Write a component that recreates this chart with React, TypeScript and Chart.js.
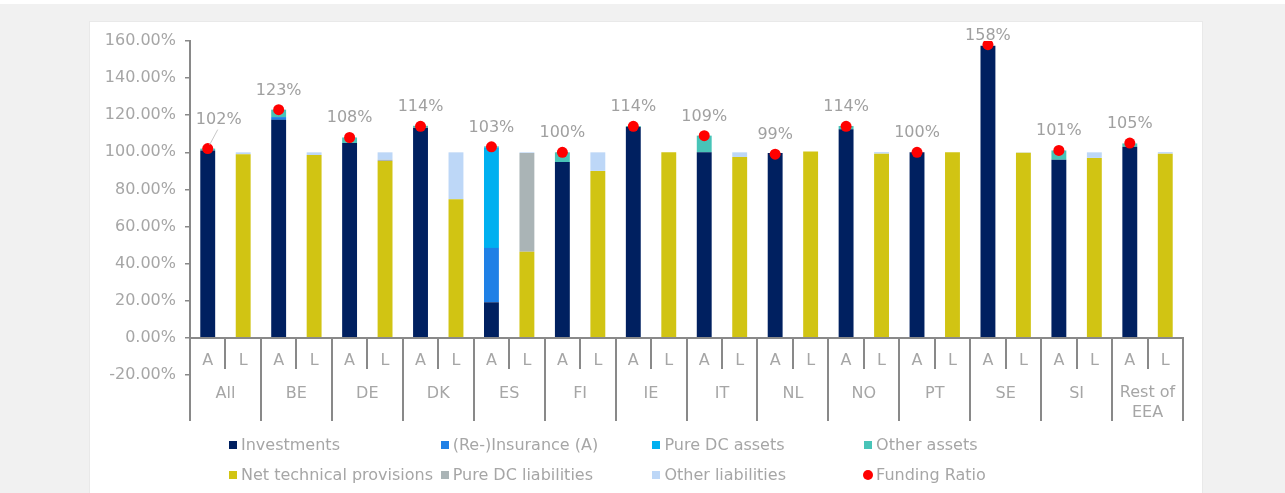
import React, { useEffect, useRef } from "react";
import { Chart, registerables } from "chart.js";

Chart.register(...registerables);

// ---------- data ----------
const groups = ["All", "BE", "DE", "DK", "ES", "FI", "IE", "IT", "NL", "NO", "PT", "SE", "SI", "Rest of EEA"];
const sides = ["A", "L"];

// assets side (A)
const investments = [101, 117.5, 105, 113.3, 19.2, 94.8, 113.6, 100, 99.6, 112.4, 100, 157.5, 96, 103];
const reInsurance = [0, 1.5, 0, 0, 29.3, 0, 0, 0, 0, 0, 0, 0, 0, 0];
const pureDCAssets = [0, 0, 0, 0, 54.3, 0, 0, 0, 0, 0, 0, 0, 0, 0];
const otherAssets = [1, 4, 3, 1, 0.4, 5.2, 0.6, 9, 0, 1.8, 0, 0, 5, 1.8];

// liabilities side (L)
const netTechnicalProvisions = [99, 98.5, 95.3, 74.7, 46.4, 90, 100, 97.5, 100.5, 99.3, 100, 99.8, 97, 99.3];
const pureDCLiabilities = [0, 0, 0.7, 0, 53.2, 0, 0, 0, 0, 0, 0, 0, 0, 0];
const otherLiabilities = [1, 1.5, 4, 25.3, 0.4, 10, 0, 2.5, 0, 0.8, 0, 0.2, 3, 0.8];

const fundingRatio = [102, 123, 108, 114, 103, 100, 114, 109, 99, 114, 100, 158, 101, 105];

const yTicks = { min: -20, max: 160, step: 20 };

// ---------- styles ----------
const FONT = "'DejaVu Sans', Verdana, sans-serif";
const TEXT = "#a6a6a6";
const AXIS = "#898989";

const COLORS = {
  investments: "#002060",
  reInsurance: "#1F80E6",
  pureDCAssets: "#00B0F0",
  otherAssets: "#48C4B8",
  ntp: "#D1C413",
  pureDCLiab: "#AAB4B6",
  otherLiab: "#BDD7F7",
  funding: "#FF0000",
};

const labels: string[] = groups.flatMap(() => sides);
const onA = (arr: number[]) => arr.flatMap((v) => [v ? v : null, null]);
const onL = (arr: number[]) => arr.flatMap((v) => [null, v ? v : null]);

const legendItems = [
  { label: "Investments", color: COLORS.investments, shape: "square" },
  { label: "(Re-)Insurance (A)", color: COLORS.reInsurance, shape: "square" },
  { label: "Pure DC assets", color: COLORS.pureDCAssets, shape: "square" },
  { label: "Other assets", color: COLORS.otherAssets, shape: "square" },
  { label: "Net technical provisions", color: COLORS.ntp, shape: "square" },
  { label: "Pure DC liabilities", color: COLORS.pureDCLiab, shape: "square" },
  { label: "Other liabilities", color: COLORS.otherLiab, shape: "square" },
  { label: "Funding Ratio", color: COLORS.funding, shape: "circle" },
];

const backgroundPlugin = {
  id: "panelBackground",
  beforeDraw(chart: any) {
    const { ctx, width, height } = chart;
    ctx.save();
    ctx.fillStyle = "#f1f1f1";
    ctx.fillRect(0, 0, width, height);
    ctx.fillStyle = "#ffffff";
    ctx.fillRect(0, 0, width, 4);
    ctx.fillStyle = "#e9e9e9";
    ctx.fillRect(89, 21, 1114, height - 21);
    ctx.fillStyle = "#ffffff";
    ctx.fillRect(90, 22, 1112, height - 22);
    ctx.restore();
  },
};

const categoryAxisPlugin = {
  id: "categoryAxis",
  afterDatasetsDraw(chart: any) {
    const { ctx, chartArea, scales } = chart;
    const x = scales.x;
    const y = scales.y;
    const y0 = Math.round(y.getPixelForValue(0));
    const slot = x.getPixelForValue(1) - x.getPixelForValue(0);
    ctx.save();
    ctx.strokeStyle = AXIS;
    ctx.lineWidth = 2;
    ctx.beginPath();
    ctx.moveTo(chartArea.left, y0);
    ctx.lineTo(chartArea.right, y0);
    ctx.stroke();
    labels.forEach((_, i) => {
      if (i === 0) return;
      const lx = Math.round(x.getPixelForValue(i) - slot / 2);
      const h = i % 2 === 0 ? 83 : 31;
      ctx.beginPath();
      ctx.moveTo(lx, y0);
      ctx.lineTo(lx, y0 + h);
      ctx.stroke();
    });
    const rx = Math.round(chartArea.right);
    ctx.beginPath();
    ctx.moveTo(rx, y0 - 1);
    ctx.lineTo(rx, y0 + 83);
    ctx.stroke();
    // y-axis extension below the plot area
    ctx.beginPath();
    ctx.moveTo(chartArea.left, chartArea.bottom);
    ctx.lineTo(chartArea.left, y0 + 83);
    ctx.stroke();

    ctx.fillStyle = TEXT;
    ctx.font = `16px ${FONT}`;
    ctx.textAlign = "center";
    ctx.textBaseline = "alphabetic";
    labels.forEach((lab, i) => {
      ctx.fillText(lab, x.getPixelForValue(i), y0 + 27);
    });
    groups.forEach((g, gi) => {
      const cx = (x.getPixelForValue(gi * 2) + x.getPixelForValue(gi * 2 + 1)) / 2;
      if (g === "Rest of EEA") {
        ctx.fillText("Rest of", cx, y0 + 59);
        ctx.fillText("EEA", cx, y0 + 79);
      } else {
        ctx.fillText(g, cx, y0 + 60);
      }
    });
    ctx.restore();
  },
};

const fundingLabelPlugin = {
  id: "fundingLabels",
  afterDatasetsDraw(chart: any) {
    const { ctx, chartArea } = chart;
    const idx = chart.data.datasets.findIndex((d: any) => d.label === "Funding Ratio");
    const meta = chart.getDatasetMeta(idx);
    ctx.save();
    ctx.font = `16px ${FONT}`;
    ctx.fillStyle = "#a0a0a0";
    ctx.textAlign = "center";
    ctx.textBaseline = "alphabetic";
    let g = 0;
    meta.data.forEach((pt: any, i: number) => {
      const v = chart.data.datasets[idx].data[i];
      if (v == null) return;
      const text = `${v}%`;
      if (g === 0) {
        ctx.strokeStyle = "#c8c8c8";
        ctx.lineWidth = 1;
        ctx.beginPath();
        ctx.moveTo(pt.x + 2, pt.y - 4);
        ctx.lineTo(pt.x + 10, pt.y - 19);
        ctx.stroke();
        ctx.fillText(text, pt.x + 11, pt.y - 25);
      } else {
        ctx.fillText(text, pt.x, Math.max(pt.y - 15, chartArea.top - 1));
      }
      g++;
    });
    ctx.restore();
  },
};

export default function App() {
  const canvasRef = useRef<HTMLCanvasElement | null>(null);

  useEffect(() => {
    if (!canvasRef.current) return;
    const barCommon = {
      type: "bar" as const,
      stack: "main",
      barPercentage: 0.42,
      categoryPercentage: 1,
      borderWidth: 0,
      order: 1,
    };
    const chart = new Chart(canvasRef.current, {
      type: "bar",
      data: {
        labels,
        datasets: [
          {
            type: "line" as const,
            label: "Funding Ratio",
            data: onA(fundingRatio),
            showLine: false,
            pointRadius: 5.5,
            pointHoverRadius: 5.5,
            pointBackgroundColor: COLORS.funding,
            pointBorderWidth: 0,
            borderColor: COLORS.funding,
            stack: "fr",
            order: 0,
          } as any,
          { ...barCommon, label: "Investments", data: onA(investments), backgroundColor: COLORS.investments },
          { ...barCommon, label: "(Re-)Insurance (A)", data: onA(reInsurance), backgroundColor: COLORS.reInsurance },
          { ...barCommon, label: "Pure DC assets", data: onA(pureDCAssets), backgroundColor: COLORS.pureDCAssets },
          { ...barCommon, label: "Other assets", data: onA(otherAssets), backgroundColor: COLORS.otherAssets },
          { ...barCommon, label: "Net technical provisions", data: onL(netTechnicalProvisions), backgroundColor: COLORS.ntp },
          { ...barCommon, label: "Pure DC liabilities", data: onL(pureDCLiabilities), backgroundColor: COLORS.pureDCLiab },
          { ...barCommon, label: "Other liabilities", data: onL(otherLiabilities), backgroundColor: COLORS.otherLiab },
        ],
      },
      options: {
        responsive: false,
        animation: false,
        layout: { padding: { top: 41, right: 102, bottom: 118, left: 0 } },
        plugins: {
          legend: { display: false },
          tooltip: { enabled: false },
          title: { display: false },
        },
        scales: {
          x: {
            type: "category",
            display: false,
            offset: true,
            stacked: true,
          },
          y: {
            stacked: true,
            min: yTicks.min,
            max: yTicks.max,
            afterFit: (scale: any) => {
              scale.width = 190;
            },
            border: { display: true, color: AXIS, width: 2 },
            grid: {
              display: true,
              drawOnChartArea: false,
              drawTicks: true,
              tickLength: 5,
              color: AXIS,
              lineWidth: 1.5,
            },
            ticks: {
              stepSize: yTicks.step,
              padding: 9,
              color: TEXT,
              font: { family: FONT, size: 16 },
              callback: (v: any) => `${Number(v).toFixed(2)}%`,
            },
          },
        },
      },
      plugins: [backgroundPlugin, categoryAxisPlugin, fundingLabelPlugin],
    });
    return () => chart.destroy();
  }, []);

  return (
    <div
      style={{
        position: "fixed",
        left: 0,
        top: 0,
        width: 1285,
        height: 493,
        overflow: "hidden",
        fontFamily: FONT,
      }}
    >
      <canvas
        ref={canvasRef}
        width={1285}
        height={493}
        style={{ position: "absolute", left: 0, top: 0, width: 1285, height: 493 }}
      />
      {legendItems.map((item, i) => {
        const col = i % 4;
        const row = Math.floor(i / 4);
        return (
          <div
            key={item.label}
            style={{
              position: "absolute",
              left: 229 + col * 211.7,
              top: row === 0 ? 434.5 : 465,
              height: 20,
              display: "flex",
              alignItems: "center",
              whiteSpace: "nowrap",
              fontSize: 16,
              lineHeight: "20px",
              color: TEXT,
            }}
          >
            <span
              style={{
                display: "inline-block",
                width: item.shape === "circle" ? 10 : 8,
                height: item.shape === "circle" ? 10 : 8,
                borderRadius: item.shape === "circle" ? "50%" : 0,
                background: item.color,
                marginLeft: item.shape === "circle" ? -1 : 0,
                marginRight: item.shape === "circle" ? 3 : 4,
              }}
            />
            <span>{item.label}</span>
          </div>
        );
      })}
    </div>
  );
}
